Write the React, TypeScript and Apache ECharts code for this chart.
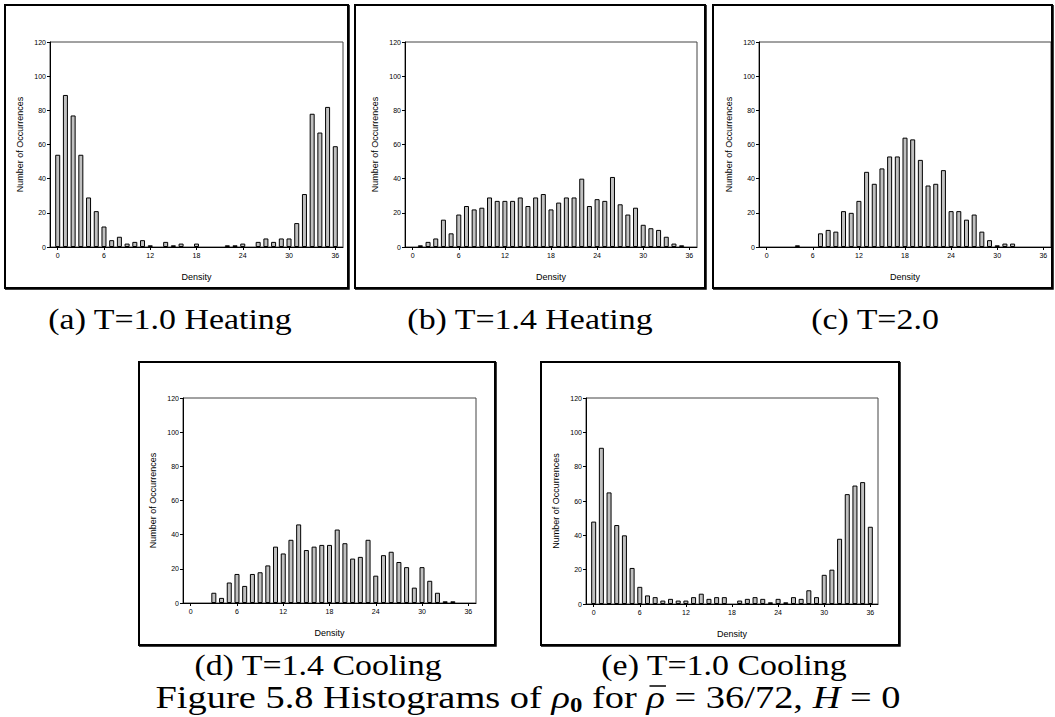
import React, { useEffect, useRef } from "react";
import * as echarts from "echarts";

// ---- data ----
const densities = [
  0, 1, 2, 3, 4, 5, 6, 7, 8, 9, 10, 11, 12, 13, 14, 15, 16, 17, 18,
  19, 20, 21, 22, 23, 24, 25, 26, 27, 28, 29, 30, 31, 32, 33, 34, 35, 36,
];
const xTickValues = [0, 6, 12, 18, 24, 30, 36];

const heatingT10 = [
  54, 89, 77, 54, 29, 21, 12, 4, 6, 2, 3, 4, 1, 0, 3, 1, 2, 0, 2, 0,
  0, 0, 1, 1, 2, 0, 3, 5, 3, 5, 5, 14, 31, 78, 67, 82, 59,
];
const heatingT14 = [
  0, 1, 3, 5, 16, 8, 19, 24, 22, 23, 29, 27, 27, 27, 29, 24, 29, 31, 22, 26,
  29, 29, 40, 24, 28, 27, 41, 25, 19, 23, 13, 11, 10, 6, 2, 1, 0,
];
const tempT20 = [
  0, 0, 0, 0, 1, 0, 0, 8, 10, 9, 21, 20, 27, 44, 37, 46, 53, 53, 64, 63,
  51, 36, 37, 45, 21, 21, 16, 19, 9, 4, 1, 2, 2, 0, 0, 0, 0,
];
const coolingT14 = [
  0, 0, 0, 6, 3, 12, 17, 10, 17, 18, 22, 33, 29, 37, 46, 31, 33, 34, 34, 43,
  35, 26, 27, 37, 16, 28, 30, 24, 21, 9, 21, 13, 6, 1, 1, 0, 0,
];
const coolingT10 = [
  48, 91, 65, 46, 40, 21, 10, 5, 4, 2, 3, 2, 2, 4, 6, 3, 4, 4, 0, 2,
  3, 4, 3, 1, 3, 1, 4, 3, 8, 4, 17, 20, 38, 64, 69, 71, 45,
];

const captions = [
  "(a) T=1.0 Heating",
  "(b) T=1.4 Heating",
  "(c) T=2.0",
  "(d) T=1.4 Cooling",
  "(e) T=1.0 Cooling",
];
const seriesValues = [heatingT10, heatingT14, tempT20, coolingT14, coolingT10];

// figure caption pieces: [text, style]
const figCaptionParts: [string, string][] = [
  ["Figure 5.8 Histograms of ", "n"],
  ["ρ", "i"],
  ["0", "sub"],
  [" for ", "n"],
  ["ρ", "bar"],
  [" = 36/72, ", "n"],
  ["H", "i"],
  [" = 0", "n"],
];

// ---- layout (pixels) ----
const layout = [
  { box: [5, 5, 343, 283], grid: [50, 42, 293, 205], cap: [170, 319] },
  { box: [355, 5, 350, 283], grid: [405, 42, 292, 205], cap: [530, 319] },
  { box: [713, 5, 339, 283], grid: [759, 42, 292, 205], cap: [875, 319] },
  { box: [139, 362, 356, 283], grid: [183, 398, 293, 205], cap: [318, 665] },
  { box: [541, 362, 358, 283], grid: [586, 398, 292, 206], cap: [724, 665] },
];

const SANS = "Liberation Sans, Arial, sans-serif";
const SERIF = "Liberation Serif";
const CAP_SIZE = 30;
const FIG_SIZE = 31;
const SUB_SIZE = 20;
const SX = 1.13;
const FIG_SX = 1.24;
const FIG_X = 528;
const FIG_BASE = 706;

function measure(text: string, font: string): number {
  const c = document.createElement("canvas").getContext("2d");
  if (!c) return text.length * 10;
  c.font = font;
  return c.measureText(text).width;
}

function fontFor(kind: string): string {
  if (kind === "i" || kind === "bar") return `italic normal ${FIG_SIZE}px ${SERIF}`;
  if (kind === "sub") return `normal bold ${SUB_SIZE}px ${SERIF}`;
  return `normal normal ${FIG_SIZE}px ${SERIF}`;
}

function buildOption() {
  const grids: any[] = [];
  const xAxes: any[] = [];
  const yAxes: any[] = [];
  const series: any[] = [];
  const graphics: any[] = [];

  layout.forEach((p, i) => {
    grids.push({
      left: p.grid[0],
      top: p.grid[1],
      width: p.grid[2],
      height: p.grid[3],
      show: true,
      borderColor: "#444",
      borderWidth: 1,
      backgroundColor: "transparent",
    });
    xAxes.push({
      type: "value",
      gridIndex: i,
      min: -1,
      max: 37,
      name: "Density",
      nameLocation: "middle",
      nameGap: 25,
      nameTextStyle: { fontFamily: SANS, fontSize: 9, color: "#000" },
      axisLine: { show: true, onZero: false, lineStyle: { color: "#000", width: 1 } },
      axisTick: { show: true, length: 3, lineStyle: { color: "#000" }, customValues: xTickValues },
      axisLabel: { fontFamily: SANS, fontSize: 7, color: "#000", margin: 5, customValues: xTickValues },
      splitLine: { show: false },
    });
    yAxes.push({
      type: "value",
      gridIndex: i,
      min: 0,
      max: 120,
      interval: 20,
      name: "Number of Occurrences",
      nameLocation: "middle",
      nameGap: 26,
      nameTextStyle: { fontFamily: SANS, fontSize: 9, color: "#000" },
      axisLine: { show: true, onZero: false, lineStyle: { color: "#000", width: 1 } },
      axisTick: { show: true, length: 3, lineStyle: { color: "#000" } },
      axisLabel: { fontFamily: SANS, fontSize: 7, color: "#000", margin: 4 },
      splitLine: { show: false },
    });
    const vals = seriesValues[i];
    series.push({
      type: "bar",
      xAxisIndex: i,
      yAxisIndex: i,
      barWidth: 5,
      itemStyle: { color: "#c0c0c0", borderColor: "#000", borderWidth: 1 },
      data: densities
        .map((d, k) => [d, vals[k]])
        .filter((pt) => pt[1] > 0),
    });
    const [bx, by, bw, bh] = p.box;
    graphics.push({
      type: "rect",
      shape: { x: bx, y: by, width: bw, height: bh },
      style: { fill: "none", stroke: "#000", lineWidth: 2 },
      silent: true,
    });
    graphics.push({
      type: "polyline",
      shape: { points: [[bx + bw + 1, by], [bx + bw + 1, by + bh + 1], [bx, by + bh + 1]] },
      style: { fill: "none", stroke: "#000", lineWidth: 1.5 },
      silent: true,
    });
    graphics.push({
      type: "text",
      x: p.cap[0],
      y: p.cap[1],
      scaleX: SX,
      style: {
        text: captions[i],
        fontFamily: SERIF,
        fontSize: CAP_SIZE,
        fill: "#000",
        align: "center",
        verticalAlign: "middle",
      },
    });
  });

  // figure caption: segments laid out left to right
  const widths = figCaptionParts.map(([t, k]) => measure(t, fontFor(k)));
  const total = widths.reduce((a, b) => a + b, 0) * FIG_SX;
  let cx = FIG_X - total / 2;
  figCaptionParts.forEach(([t, k], idx) => {
    const w = widths[idx] * FIG_SX;
    const isItalic = k === "i" || k === "bar";
    graphics.push({
      type: "text",
      x: cx,
      y: k === "sub" ? FIG_BASE + 9 : FIG_BASE + 7,
      scaleX: FIG_SX,
      style: {
        text: t,
        fontFamily: SERIF,
        fontSize: k === "sub" ? SUB_SIZE : FIG_SIZE,
        fontStyle: isItalic ? "italic" : "normal",
        fontWeight: k === "sub" ? "bold" : "normal",
        fill: "#000",
        align: "left",
        verticalAlign: "bottom",
      },
    });
    if (k === "bar") {
      graphics.push({
        type: "line",
        shape: { x1: cx + 3, y1: FIG_BASE - 20, x2: cx + w + 1, y2: FIG_BASE - 20 },
        style: { stroke: "#000", lineWidth: 1.5 },
      });
    }
    cx += w;
  });

  return {
    animation: false,
    backgroundColor: "#fff",
    grid: grids,
    xAxis: xAxes,
    yAxis: yAxes,
    series,
    graphic: graphics,
  };
}

export default function App() {
  const ref = useRef<HTMLDivElement>(null);
  useEffect(() => {
    if (!ref.current) return;
    const chart = echarts.init(ref.current, undefined, { renderer: "svg" });
    chart.setOption(buildOption() as any);
    return () => chart.dispose();
  }, []);
  return (
    <div
      ref={ref}
      style={{ position: "absolute", left: 0, top: 0, width: 1055, height: 717, background: "#fff" }}
    />
  );
}
